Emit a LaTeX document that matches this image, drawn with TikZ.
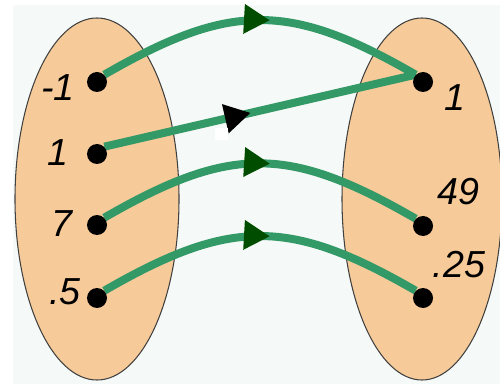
\documentclass[tikz,border=0pt]{standalone}
\usepackage{fontspec}
\newfontfamily\numfont{Liberation Sans}
\usetikzlibrary{arrows.meta,decorations.markings,backgrounds}
\definecolor{bgpale}{RGB}{245,250,248}
\definecolor{peach}{RGB}{247,203,153}
\definecolor{mapgreen}{RGB}{51,153,102}
\definecolor{headgreen}{RGB}{0,77,0}

\tikzset{
  dot/.style={circle,fill=black,inner sep=0pt,minimum size=0.4cm},
  num/.style={font=\numfont\itshape\fontsize{21.4}{24}\selectfont,inner sep=0pt},
  mapline/.style={mapgreen,line width=0.16cm},
  midhead/.style n args={2}{postaction={decorate},
    decoration={markings,mark=at position #1 with
      {\arrow{Triangle[length=0.52cm,width=0.56cm,color=#2]}}}},
}

\begin{document}
\begin{tikzpicture}
\useasboundingbox (0,0) rectangle (10,7.68);

\begin{scope}[on background layer]
\fill[bgpale] (0.26,0) rectangle (10,7.58);
\draw[fill=peach,draw=black!75,line width=0.6pt] (1.94,3.70) ellipse (1.64 and 3.62);
\draw[fill=peach,draw=black!75,line width=0.6pt] (8.44,3.70) ellipse (1.60 and 3.62);
\end{scope}

% domain
\node[dot] (a1) at (1.94,6.04) {};
\node[dot] (a2) at (1.94,4.60) {};
\node[dot] (a3) at (1.94,3.18) {};
\node[dot] (a4) at (1.94,1.72) {};
\node[num] (la1) at (1.16,5.92) {-1};
\node[num] (la2) at (1.16,4.62) {1};
\node[num] (la3) at (1.24,3.20) {7};
\node[num] (la4) at (1.30,1.84) {.5};

% range
\node[dot] (b1) at (8.46,6.04) {};
\node[dot] (b2) at (8.46,3.16) {};
\node[dot] (b3) at (8.46,1.72) {};
\node[num] (lb1) at (9.10,5.72) {1};
\node[num] (lb2) at (9.16,3.84) {49};
\node[num] (lb3) at (9.18,2.38) {.25};

\begin{scope}[on background layer]
\draw[mapline,midhead={0.53}{headgreen}] (a1.north east) to[out=30,in=150,looseness=1.2] (b1.north west);
\draw[mapline,midhead={0.47}{black}] (a2.north east) -- (b1.north west);
\draw[mapline,midhead={0.53}{headgreen}] (a3.north east) to[out=30,in=150,looseness=1.2] (b2.north west);
\draw[mapline,midhead={0.53}{headgreen}] (a4.north east) to[out=30,in=150,looseness=1.2] (b3.north west);
\end{scope}

\fill[white] (4.30,4.88) rectangle (4.56,5.12);

\end{tikzpicture}
\end{document}
